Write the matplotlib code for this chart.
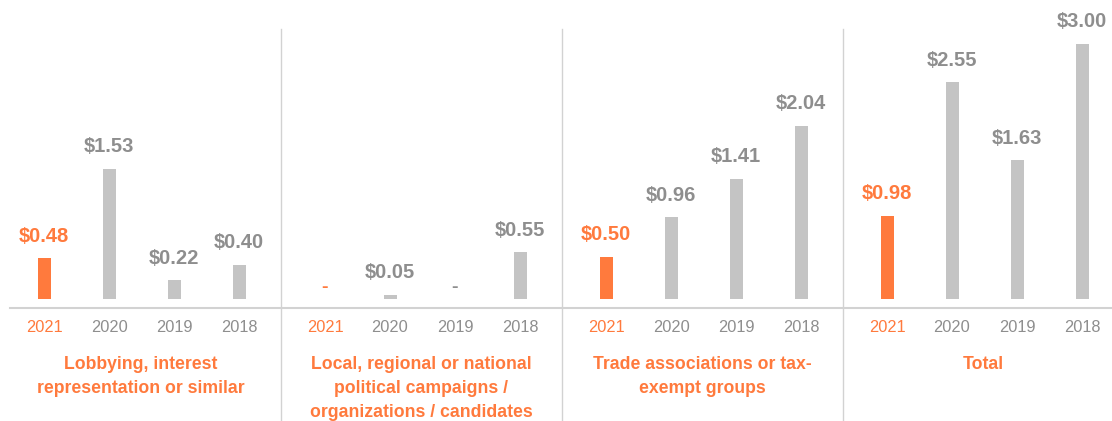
import matplotlib.pyplot as plt
from matplotlib.lines import Line2D

years = ['2021', '2020', '2019', '2018']
groups = ['Lobbying, interest\nrepresentation or similar',
          'Local, regional or national\npolitical campaigns /\norganizations / candidates',
          'Trade associations or tax-\nexempt groups',
          'Total']
lobbying = [0.48, 1.53, 0.22, 0.40]
campaigns = [0.0, 0.05, 0.0, 0.55]
trade = [0.50, 0.96, 1.41, 2.04]
total = [0.98, 2.55, 1.63, 3.00]
values = [lobbying, campaigns, trade, total]

orange = '#ff7a3d'
bar_gray = '#c4c4c4'
txt_gray = '#8e8e8e'
line_gray = '#d2d2d2'

plt.rcParams['font.family'] = ['Liberation Sans', 'DejaVu Sans']

W, H = 1112, 421
fig = plt.figure(figsize=(W / 100, H / 100), dpi=100)

panel_w = 281
base_y = 299      # pixel row of bar bottoms
px_per_unit = 85  # pixels per dollar
step = 65         # pixels between bars
first = 44        # first bar centre inside a panel

for g in range(4):
    ax = fig.add_axes([g * panel_w / W, (H - base_y) / H, panel_w / W, base_y / H])
    ax.set_xlim(-first / step, (panel_w - first) / step)
    ax.set_ylim(0, base_y / px_per_unit)
    ax.axis('off')
    vals = values[g]
    x = list(range(len(vals)))
    cols = [orange] + [bar_gray] * 3
    ax.bar(x, vals, width=13 / step, color=cols)
    for i, v in enumerate(vals):
        c = orange if i == 0 else txt_gray
        if v == 0:
            ax.text(i, 11 / px_per_unit, '-', ha='center', va='center',
                    color=c, fontsize=14, fontweight='bold')
        else:
            ax.annotate('$%.2f' % v, (i, v), xytext=(0, 12), textcoords='offset points',
                        ha='center', va='baseline', color=c, fontsize=14.5,
                        fontweight='bold')
        ax.text(i, -28 / px_per_unit, years[i], ha='center', va='center',
                color=c, fontsize=11.8, clip_on=False)
    ax.text(1.5 + (panel_w / 2 - first - 1.5 * step) / step, -57 / px_per_unit, groups[g],
            ha='center', va='top', color=orange, fontsize=12.7, fontweight='bold',
            linespacing=1.52, clip_on=False)

# separators and baseline
for g in range(1, 4):
    fig.add_artist(Line2D([g * panel_w / W] * 2, [0, (H - 29) / H],
                          color=line_gray, lw=1))
fig.add_artist(Line2D([10 / W, 1], [(H - 308) / H] * 2, color=line_gray, lw=1.5))

fig.savefig('out.png', dpi=100)
